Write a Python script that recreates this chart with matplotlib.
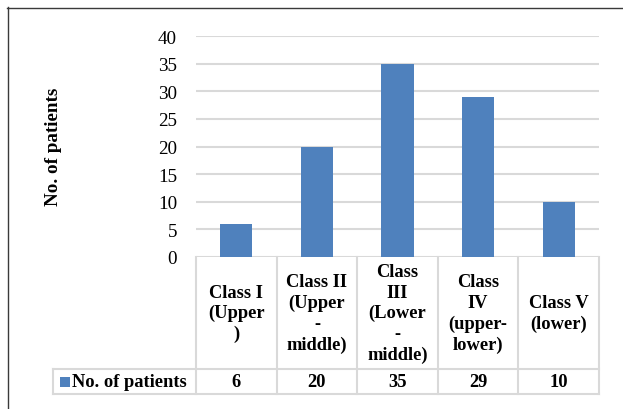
import matplotlib
matplotlib.use('Agg')
import matplotlib.pyplot as plt
from matplotlib.lines import Line2D
from matplotlib.patches import Rectangle
import matplotlib.transforms as mtransforms

categories = ["Class I\n(Upper\n)", "Class II\n(Upper\n-\nmiddle)",
              "Class\nIII\n(Lower\n-\nmiddle)", "Class\nIV\n(upper-\nlower)",
              "Class V\n(lower)"]
values = [6, 20, 35, 29, 10]
series_name = "No. of patients"
y_label = "No. of patients"
yticks = [0, 5, 10, 15, 20, 25, 30, 35, 40]

BLUE = '#4F81BD'
GRID = '#d9d9d9'
SERIF = 'Liberation Serif'
FS = 13.3

W, H = 623, 410
fig = plt.figure(figsize=(W / 100, H / 100), dpi=100)
fig.patch.set_facecolor('white')

def fx(px):
    return px / W

def fy(py):
    return 1 - py / H

AX_L, AX_R, AX_T, AX_B = 196, 599, 37, 258
ax = fig.add_axes([fx(AX_L), fy(AX_B), fx(AX_R) - fx(AX_L), fy(AX_T) - fy(AX_B)])
xpos = list(range(len(values)))
ax.bar(xpos, values, width=0.4, color=BLUE, zorder=3)
ax.set_xlim(-0.5, len(values) - 0.5)
ax.set_ylim(yticks[0], yticks[-1])
ax.set_yticks(yticks)
ax.set_yticklabels([str(t) for t in yticks], fontfamily=SERIF, fontsize=13.8)
ax.yaxis.grid(True, color=GRID, linewidth=1.5, zorder=0)
ax.set_axisbelow(True)
for s in ax.spines.values():
    s.set_visible(False)
ax.tick_params(axis='y', length=0, pad=13.7)
ax.set_xticks([])

fig.text(fx(53), fy(147), y_label, rotation=90, ha='center', va='center',
         fontfamily=SERIF, fontweight='bold', fontsize=FS + 0.4)

# data table under the axis
trans = mtransforms.blended_transform_factory(ax.transData, ax.transAxes)
ah = AX_B - AX_T
y0 = 0.0
y1 = (AX_B - 370) / ah
y2 = (AX_B - 395) / ah
cw = (AX_R - AX_L) / len(values)
xleg = -0.5 + (53 - AX_L) / cw
xr = len(values) - 0.5

lk = dict(color=GRID, lw=1.5, transform=trans, clip_on=False, zorder=1)
ax.add_line(Line2D([xleg, xr], [y1, y1], **lk))
ax.add_line(Line2D([xleg, xr], [y2, y2], **lk))
ax.add_line(Line2D([xleg, xleg], [y1, y2], **lk))
for i in range(len(values) + 1):
    xb = -0.5 + i
    ax.add_line(Line2D([xb, xb], [y0, y2], **lk))

for i, (c, v) in enumerate(zip(categories, values)):
    ax.text(i, (y0 + y1) / 2, c, transform=trans, ha='center', va='center',
            fontfamily=SERIF, fontweight='bold', fontsize=FS, linespacing=1.27,
            clip_on=False)
    ax.text(i, (y1 + y2) / 2, str(v), transform=trans, ha='center', va='center',
            fontfamily=SERIF, fontweight='bold', fontsize=FS, clip_on=False)

# legend key in table
fig.add_artist(Rectangle((fx(60), fy(388)), fx(70) - fx(60), fy(378) - fy(388),
                         facecolor=BLUE, edgecolor='none'))
fig.text(fx(72.5), fy(383), series_name, ha='left', va='center',
         fontfamily=SERIF, fontweight='bold', fontsize=FS)

# outer chart frame (cropped at right and bottom)
fig.add_artist(Line2D([fx(7.5), fx(7.5)], [fy(8), 0], color='#3a3a3a', lw=1))
fig.add_artist(Line2D([fx(7), 1], [fy(8.5), fy(8.5)], color='#3a3a3a', lw=1))

fig.savefig('out.png', dpi=100, facecolor='white')
